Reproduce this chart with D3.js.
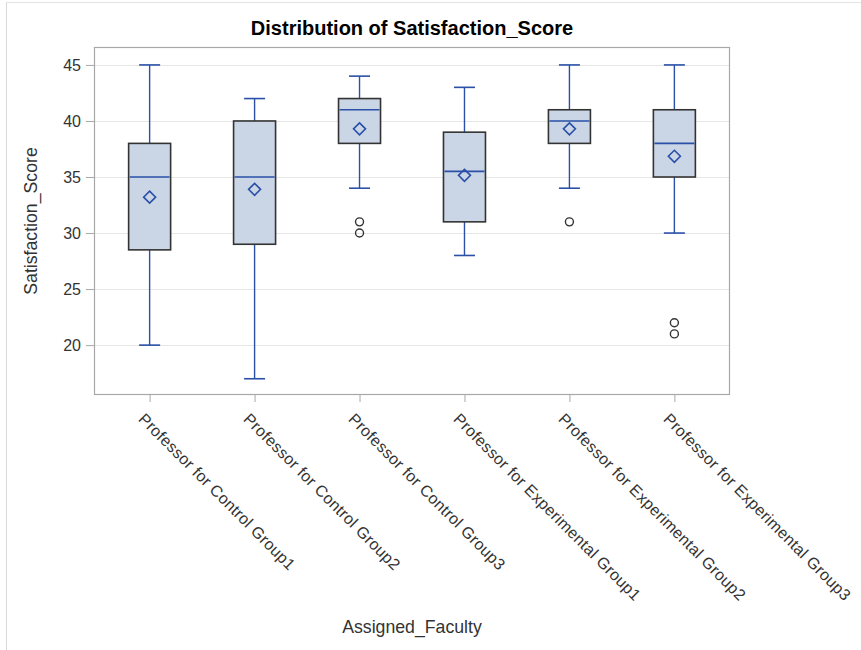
<!DOCTYPE html>
<html><head><meta charset="utf-8">
<script src="https://cdn.jsdelivr.net/npm/d3@7"></script>
<style>body{margin:0;background:#fff}svg{display:block}text{font-family:Arial,"Liberation Sans",sans-serif}</style>
</head><body>
<script>
const categories = ["Professor for Control Group1","Professor for Control Group2","Professor for Control Group3","Professor for Experimental Group1","Professor for Experimental Group2","Professor for Experimental Group3"];
const whiskerLow = [20, 17, 34, 28, 34, 30];
const q1 = [28.5, 29, 38, 31, 38, 35];
const median = [35, 35, 41, 35.5, 40, 38];
const q3 = [38, 40, 42, 39, 41, 41];
const whiskerHigh = [45, 42, 44, 43, 45, 45];
const means = [33.2, 33.9, 39.3, 35.15, 39.3, 36.85];
const outliers = [[], [], [31, 30], [], [31], [22, 21]];
const yTicks = [20, 25, 30, 35, 40, 45];
const titleText = "Distribution of Satisfaction_Score";
const xLabel = "Assigned_Faculty";
const yLabel = "Satisfaction_Score";

const W = 861, H = 650;
const L = 94, T = 47, R = 730, B = 395;
const blue = "#2a50a8", dark = "#333", boxFill = "#cad5e5";

const svg = d3.select("body").append("svg").attr("width", W).attr("height", H);

// outer border (left & top)
svg.append("line").attr("x1", 6.5).attr("x2", 6.5).attr("y1", 2).attr("y2", H).attr("stroke", "#d9d9d9");
svg.append("line").attr("x1", 6.5).attr("x2", W).attr("y1", 2.5).attr("y2", 2.5).attr("stroke", "#e3e3e3");

const y = d3.scaleLinear().domain([15.55, 46.6]).range([B, T]);
const x = d3.scalePoint().domain(categories).range([L, R]).padding(0.53);

// gridlines
svg.append("g").selectAll("line").data(yTicks).join("line")
  .attr("x1", L).attr("x2", R).attr("y1", d => Math.round(y(d)) + 0.5).attr("y2", d => Math.round(y(d)) + 0.5)
  .attr("stroke", "#e6e6e6").attr("stroke-width", 1);

// y axis
const yAxis = svg.append("g").attr("transform", `translate(${L},0)`)
  .call(d3.axisLeft(y).tickValues(yTicks).tickSize(8).tickPadding(5));
yAxis.select(".domain").remove();
yAxis.selectAll(".tick line").attr("stroke", "#a8a8a8");
yAxis.selectAll(".tick text").attr("fill", "#333").style("font-size", "16px").style("font-family", "Arial, 'Liberation Sans', sans-serif");

// x axis
const xAxis = svg.append("g").attr("transform", `translate(0,${B})`)
  .call(d3.axisBottom(x).tickSize(7).tickFormat(""));
xAxis.select(".domain").remove();
xAxis.selectAll(".tick line").attr("stroke", "#a8a8a8");

svg.append("g").selectAll("text").data(categories).join("text")
  .attr("transform", d => `translate(${x(d) - 12},420) rotate(45)`)
  .attr("text-anchor", "start")
  .attr("fill", "#333")
  .style("font-size", "16px")
  .style("letter-spacing", "0.3px")
  .text(d => d);

// frame
svg.append("rect").attr("x", L + 0.5).attr("y", T + 0.5).attr("width", R - L - 1).attr("height", B - T - 1)
  .attr("fill", "none").attr("stroke", "#a8a8a8").attr("stroke-width", 1.2);

const bw = 42, cw = 21;
const g = svg.append("g");
categories.forEach((c, i) => {
  const cx = x(c);
  // whiskers
  g.append("line").attr("x1", cx).attr("x2", cx).attr("y1", y(whiskerHigh[i])).attr("y2", y(q3[i])).attr("stroke", blue).attr("stroke-width", 1.4);
  g.append("line").attr("x1", cx).attr("x2", cx).attr("y1", y(q1[i])).attr("y2", y(whiskerLow[i])).attr("stroke", blue).attr("stroke-width", 1.4);
  g.append("line").attr("x1", cx - cw / 2).attr("x2", cx + cw / 2).attr("y1", y(whiskerHigh[i])).attr("y2", y(whiskerHigh[i])).attr("stroke", blue).attr("stroke-width", 1.6);
  g.append("line").attr("x1", cx - cw / 2).attr("x2", cx + cw / 2).attr("y1", y(whiskerLow[i])).attr("y2", y(whiskerLow[i])).attr("stroke", blue).attr("stroke-width", 1.6);
  // box
  g.append("rect").attr("x", cx - bw / 2).attr("y", y(q3[i])).attr("width", bw).attr("height", y(q1[i]) - y(q3[i]))
    .attr("fill", boxFill).attr("stroke", dark).attr("stroke-width", 1.6);
  // median
  g.append("line").attr("x1", cx - bw / 2 + 1).attr("x2", cx + bw / 2 - 1).attr("y1", y(median[i])).attr("y2", y(median[i])).attr("stroke", blue).attr("stroke-width", 1.6);
  // mean diamond
  const my = y(means[i]), s = 6;
  g.append("path").attr("d", `M${cx},${my - s}L${cx + s},${my}L${cx},${my + s}L${cx - s},${my}Z`)
    .attr("fill", "none").attr("stroke", blue).attr("stroke-width", 1.6);
  // outliers
  outliers[i].forEach(v => {
    g.append("circle").attr("cx", cx).attr("cy", y(v)).attr("r", 4).attr("fill", "none").attr("stroke", dark).attr("stroke-width", 1.4);
  });
});

// title
svg.append("text").attr("x", (L + R) / 2).attr("y", 35).attr("text-anchor", "middle")
  .style("font-size", "20px").style("font-weight", "bold").attr("fill", "#000").text(titleText);
// axis labels
svg.append("text").attr("x", (L + R) / 2).attr("y", 633).attr("text-anchor", "middle")
  .style("font-size", "17.7px").attr("fill", "#333").text(xLabel);
svg.append("text").attr("transform", `translate(37,${(T + B) / 2}) rotate(-90)`).attr("text-anchor", "middle")
  .style("font-size", "17.7px").attr("fill", "#333").text(yLabel);
</script>
</body></html>
